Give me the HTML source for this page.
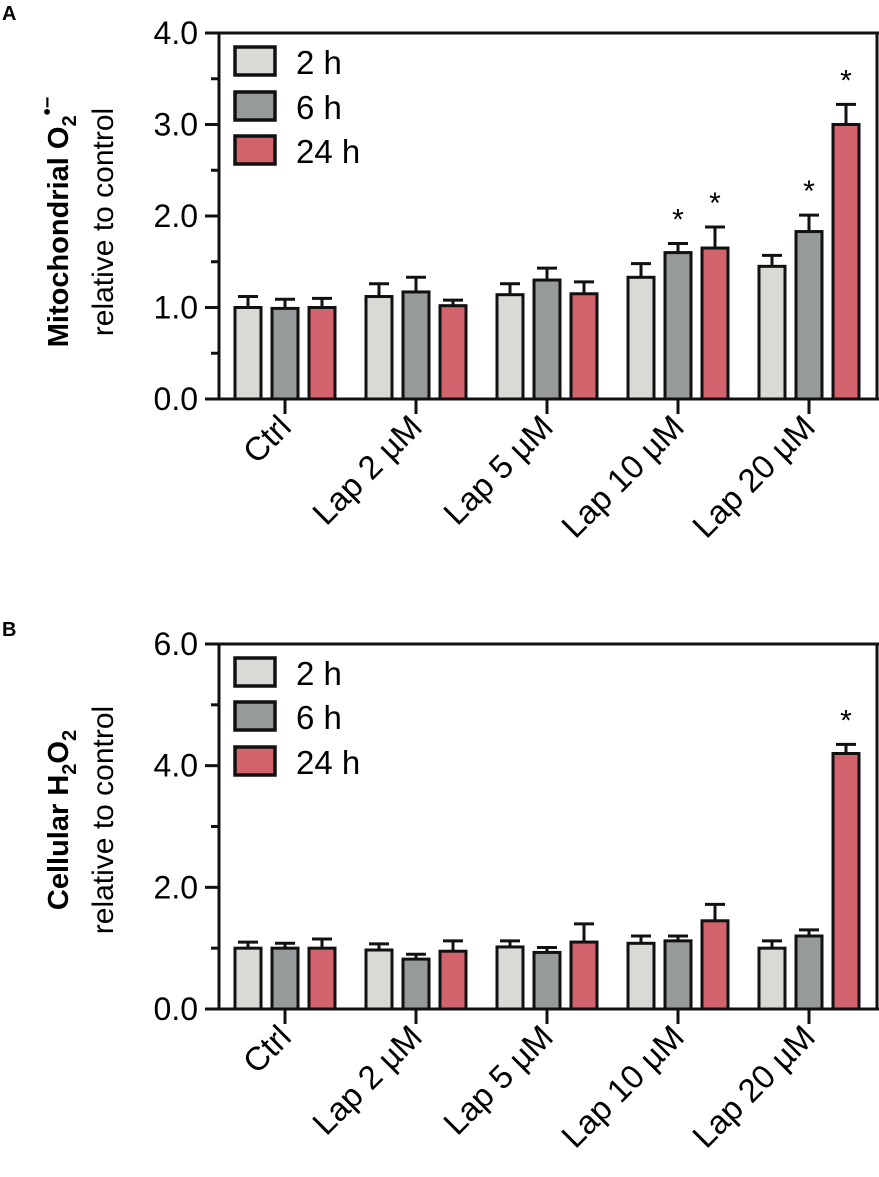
<!DOCTYPE html>
<html><head><meta charset="utf-8"><style>
html,body{margin:0;padding:0;background:#fff;}
svg text{font-family:"Liberation Sans",sans-serif;}
</style></head><body>
<svg id="fig" width="879" height="1172" viewBox="0 0 879 1172" xmlns="http://www.w3.org/2000/svg">
</svg>
<script>
const categories = ["Ctrl","Lap 2 µM","Lap 5 µM","Lap 10 µM","Lap 20 µM"];
const seriesNames = ["2 h","6 h","24 h"];
const aMeans2h = [1.00,1.12,1.14,1.33,1.45];
const aMeans6h = [0.99,1.17,1.30,1.60,1.83];
const aMeans24h = [1.00,1.02,1.15,1.65,3.00];
const aErr2h = [0.12,0.14,0.12,0.15,0.12];
const aErr6h = [0.10,0.16,0.13,0.10,0.18];
const aErr24h = [0.10,0.06,0.13,0.23,0.22];
const aSig6h = [0,0,0,1,1];
const aSig24h = [0,0,0,1,1];
const aTicks = ["0.0","1.0","2.0","3.0","4.0"];
const bMeans2h = [1.00,0.97,1.02,1.08,1.00];
const bMeans6h = [1.00,0.82,0.93,1.12,1.20];
const bMeans24h = [1.00,0.95,1.10,1.45,4.20];
const bErr2h = [0.10,0.10,0.10,0.12,0.12];
const bErr6h = [0.08,0.08,0.08,0.08,0.10];
const bErr24h = [0.15,0.17,0.30,0.27,0.15];
const bSig6h = [0,0,0,0,0];
const bSig24h = [0,0,0,0,1];
const bTicks = ["0.0","2.0","4.0","6.0"];

const NS="http://www.w3.org/2000/svg";
const svg=document.getElementById('fig');
const colors=["#d9dad6","#979a9b","#d2626c"];
const AX=219;
function mk(tag,attrs,parent,text){const e=document.createElementNS(NS,tag);for(const k in attrs)e.setAttribute(k,attrs[k]);if(text!==undefined)e.textContent=text;(parent||svg).appendChild(e);return e;}

function panel(o){
  const g=mk('g',{});
  
  
  const y=v=>o.y0-(v/o.max)*(o.y0-o.yTop);
  const x=i=>285+i*131;
  const means=[o.m2,o.m6,o.m24], errs=[o.e2,o.e6,o.e24], offs=[-37,0,37];
  for(let s=0;s<3;s++){for(let i=0;i<categories.length;i++){
    const cx=x(i)+offs[s], top=y(means[s][i]), et=y(means[s][i]+errs[s][i]);
    const eb=mk('path',{d:`M${cx} ${top} V${et} M${cx-10} ${et} H${cx+10}`,stroke:'#111','stroke-width':3,fill:'none'},g);
    
    
    const r=mk('rect',{x:cx-13,y:top,width:26,height:o.y0-top,fill:colors[s],stroke:'#111','stroke-width':3},g);
    
    
    const sig=s===1?o.s6:(s===2?o.s24:null);
    if(sig&&sig[i]){const t=mk('text',{x:cx,y:et-14,'font-size':30,'text-anchor':'middle'},g,'*');
      
      }
  }}
  const ax=mk('path',{d:`M${AX} ${o.yTop} V${o.y0} M${AX-12} ${o.yTop} H879 M${AX-12} ${o.y0} H879 M877 ${o.yTop} V${o.y0}`,stroke:'#111','stroke-width':3,fill:'none'},g);
  
  
  const n=o.ticks.length-1;
  for(let k=0;k<=n;k++){const v=o.max*k/n, yy=y(v);
    mk('line',{x1:AX-14,x2:AX,y1:yy,y2:yy,stroke:'#111','stroke-width':3},g);
    if(k<n){const ym=y(v+o.max/n/2);mk('line',{x1:AX-8,x2:AX,y1:ym,y2:ym,stroke:'#111','stroke-width':3},g);}
    const t=mk('text',{x:198,y:yy+11,'font-size':32,'text-anchor':'end'},g,o.ticks[k]);
    
    
  }
  for(let i=0;i<categories.length;i++){
    mk('line',{x1:x(i),x2:x(i),y1:o.y0,y2:o.y0+15,stroke:'#111','stroke-width':3},g);
    const tx=x(i)+8, ty=o.y0+30;
    const t=mk('text',{x:tx,y:ty,'font-size':33,'text-anchor':'end',transform:`rotate(-45 ${tx} ${ty})`},g,categories[i]);
    
    
  }
  for(let s=0;s<3;s++){const ly=o.leg[s];
    const r=mk('rect',{x:235,y:ly,width:40,height:28,fill:colors[s],stroke:'#111','stroke-width':3.5},g);
    
    
    const t=mk('text',{x:296,y:ly+27,'font-size':33},g,seriesNames[s]);
    
    
  }
  const L=mk('text',{x:2,y:o.letterY,'font-size':20,'font-weight':'bold'},g,o.letter);
  
  
  const t1=mk('text',{x:0,y:0,'font-size':29,'font-weight':'bold','text-anchor':'middle',transform:`translate(68 ${o.titleY}) rotate(-90)`},g);
  
  
  t1.innerHTML=o.title;
  const t2=mk('text',{x:0,y:0,'font-size':30,'text-anchor':'middle',transform:`translate(113 ${o.titleY}) rotate(-90)`},g,'relative to control');
  
  
}
panel({id:'a',yTop:33,y0:399,max:4,ticks:aTicks,m2:aMeans2h,m6:aMeans6h,m24:aMeans24h,e2:aErr2h,e6:aErr6h,e24:aErr24h,s6:aSig6h,s24:aSig24h,leg:[47,92,136],letter:'A',letterY:20,titleY:222,
  title:'Mitochondrial O<tspan dy="8" font-size="20">2</tspan><tspan dy="-22" font-size="20">•−</tspan>'});
panel({id:'b',yTop:644,y0:1009,max:6,ticks:bTicks,m2:bMeans2h,m6:bMeans6h,m24:bMeans24h,e2:bErr2h,e6:bErr6h,e24:bErr24h,s6:bSig6h,s24:bSig24h,leg:[658,702,747],letter:'B',letterY:636,titleY:820,
  title:'Cellular H<tspan dy="8" font-size="20">2</tspan><tspan dy="-8">O</tspan><tspan dy="8" font-size="20">2</tspan>'});
</script>
</body></html>
